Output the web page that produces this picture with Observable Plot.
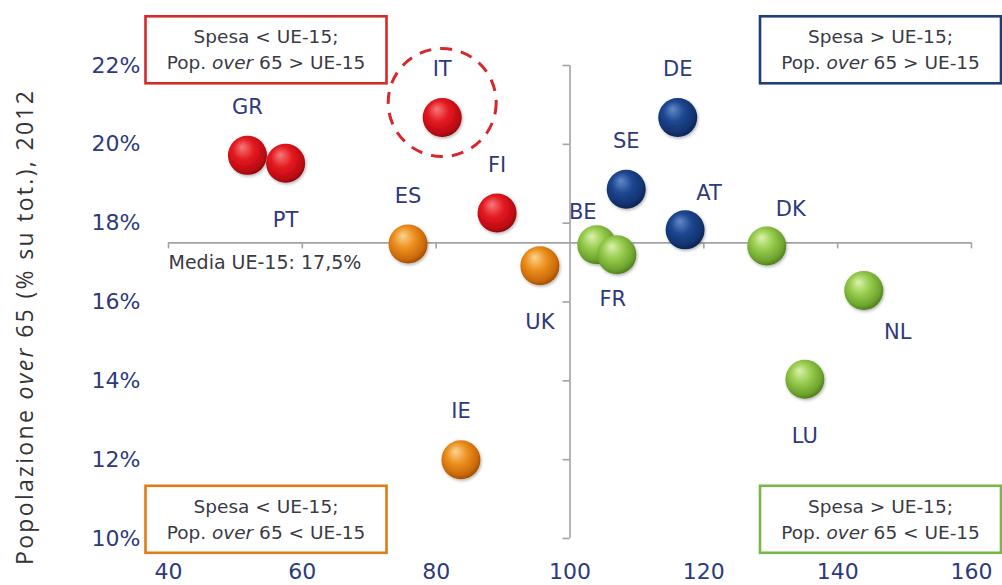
<!DOCTYPE html>
<html><head><meta charset="utf-8">
<script src="https://cdn.jsdelivr.net/npm/d3@7"></script>
<script src="https://cdn.jsdelivr.net/npm/@observablehq/plot@0.6"></script>
<style>body{margin:0;background:#fff}</style>
</head><body><div id="chart"></div>
<script>
// ---- data ----
const countries = ["GR","PT","IT","FI","ES","UK","IE","BE","FR","SE","DE","AT","DK","NL","LU"];
const spesa     = [51.8,57.5,80.9,89.1,75.8,95.5,83.7,104.0,107.0,108.4,116.1,117.2,129.4,143.9,135.1];
const over65    = [19.72,19.52,20.68,18.26,17.47,16.92,12.0,17.45,17.2,18.86,20.68,17.83,17.42,16.29,14.04];
const labelSide = ["N","S","N","N","N","S","N","NW","Sn","N","N","NE","NE","SE","S"];
const xTicks = [40,60,80,100,120,140,160];
const yTicks = [10,12,14,16,18,20,22];
const spesaUE = 100;
const over65UE = 17.5;
const mediaLabel = "Media UE-15: 17,5%";
const yTitle = "Popolazione over 65 (% su tot.), 2012";
const boxQuads = ["NW","NE","SW","SE"];
const boxTexts = [
  "Spesa < UE-15;\nPop. over 65 > UE-15",
  "Spesa > UE-15;\nPop. over 65 > UE-15",
  "Spesa < UE-15;\nPop. over 65 < UE-15",
  "Spesa > UE-15;\nPop. over 65 < UE-15"
];

// ---- styles ----
const quadColor = {NW:"#d42a2a", NE:"#1f3d7a", SW:"#e07b1a", SE:"#7ab648"};
const gradStops = {
  NW:["#f57a7a","#e41b22","#c00a12","#8e0510"],
  NE:["#6389c8","#1d4790","#123370","#0a2250"],
  SW:["#fcd490","#ec9020","#cc6a08","#9c4c04"],
  SE:["#dbf2ae","#96cb4c","#6ea42e","#4b7a1a"]
};
const sideOffset = {N:[0,-48], S:[0,57], Sn:[-4,45], NW:[-14,-33], NE:[24,-37], SE:[34,42]};
const boxAnchor = {NW:["top-left",97.5,-17.5], NE:["top-right",-91,-17.5], SW:["bottom-left",97.5,-21], SE:["bottom-right",-91,-21]};
const labelColor = "#2d3a7c";
const textGray = "#3a3a44";
const axisGray = "#a3a3a3";

const data = countries.map((c,i)=>({
  country:c, spesa:spesa[i], over65:over65[i], side:labelSide[i],
  quad:(over65[i] >= over65UE ? "N" : "S") + (spesa[i] < spesaUE ? "W" : "E")
}));

const labelMarks = Object.keys(sideOffset).map(s => Plot.text(data.filter(d=>d.side===s), {
  x:"spesa", y:"over65", text:"country", dx:sideOffset[s][0], dy:sideOffset[s][1],
  fontSize:21, fill:labelColor
}));

const boxMarks = boxQuads.map((q,i)=>Plot.text([boxTexts[i]], {
  frameAnchor:boxAnchor[q][0], dx:boxAnchor[q][1], dy:boxAnchor[q][2], text:d=>d,
  textAnchor:"middle", lineAnchor:"middle", lineHeight:1.4, fontSize:18.5, fill:textGray
}));

const chart = Plot.plot({
  width:1002, height:585,
  marginLeft:168, marginRight:31, marginTop:65, marginBottom:47,
  style:{fontFamily:"'DejaVu Sans', Verdana, sans-serif", fontSize:"22px", color:labelColor, background:"#fff"},
  x:{domain:[xTicks[0], xTicks[xTicks.length-1]], ticks:xTicks, tickSize:0, tickPadding:25, label:null},
  y:{domain:[yTicks[0], yTicks[yTicks.length-1]], ticks:yTicks, tickSize:0, tickPadding:28, tickFormat:d=>d+"%", label:null},
  color:{type:"identity"},
  marks:[
    Plot.ruleY([over65UE], {x1:xTicks[0], x2:xTicks[xTicks.length-1], stroke:axisGray, strokeWidth:1.6}),
    Plot.ruleX([spesaUE], {y1:yTicks[0], y2:yTicks[yTicks.length-1], stroke:axisGray, strokeWidth:1.6}),
    Plot.ruleX(xTicks.filter(d=>d!==spesaUE), {x:d=>d, y1:over65UE, y2:over65UE, insetBottom:-6, stroke:axisGray, strokeWidth:1.6}),
    Plot.ruleY(yTicks, {y:d=>d, x1:spesaUE, x2:spesaUE, insetLeft:-7, stroke:axisGray, strokeWidth:1.6}),
    Plot.text([mediaLabel], {x:xTicks[0], y:over65UE, text:d=>d, textAnchor:"start", dy:20, fontSize:19, fill:textGray}),
    Plot.dot(data.filter(d=>d.country==="IT"), {x:"spesa", y:"over65", r:54, dy:-15, fill:"none", stroke:"#d9262b", strokeWidth:3, strokeDasharray:"12,9"}),
    Plot.dot(data, {x:"spesa", y:"over65", r:19.5, fill:d=>`url(#ball-${d.quad})`, stroke:"none"}),
    ...labelMarks,
    Plot.text([yTitle], {frameAnchor:"left", text:d=>d, rotate:-90, textAnchor:"middle", dx:-143, dy:26, fontSize:23, fontFamily:"'Open Sans', sans-serif", fill:"#333"}),
    ...boxMarks
  ]
});
document.getElementById("chart").appendChild(chart);

const svgNode = chart.tagName.toLowerCase()==="svg" ? chart : chart.querySelector("svg");
const svg = d3.select(svgNode);

// gradients for the spheres
const defs = svg.insert("defs", ":first-child");
for (const q of Object.keys(gradStops)) {
  const g = defs.append("radialGradient").attr("id","ball-"+q)
    .attr("cx","45%").attr("cy","42%").attr("r","60%").attr("fx","36%").attr("fy","28%");
  [0,0.45,0.82,1].forEach((o,k)=>g.append("stop").attr("offset",o).attr("stop-color",gradStops[q][k]));
}
const f = defs.append("filter").attr("id","shadow").attr("x","-30%").attr("y","-30%").attr("width","160%").attr("height","160%");
f.append("feDropShadow").attr("dx",1).attr("dy",1.5).attr("stdDeviation",1.6).attr("flood-color","#000").attr("flood-opacity",0.3);
svg.selectAll("circle").filter(function(){ return (this.getAttribute("fill")||"").startsWith("url(#ball"); })
  .attr("filter","url(#shadow)");

// stretch the y title to the reference length
svg.selectAll("text").filter(function(){ return this.textContent === yTitle; })
  .attr("textLength", 474).attr("lengthAdjust", "spacing");

// italic "over"
function italicizeOver(root){
  const walker = document.createTreeWalker(root, NodeFilter.SHOW_TEXT);
  const nodes=[]; while(walker.nextNode()){ if(walker.currentNode.nodeValue.includes("over")) nodes.push(walker.currentNode); }
  for (const n of nodes){
    const parts = n.nodeValue.split("over");
    const frag = document.createDocumentFragment();
    parts.forEach((p,i)=>{
      if(i>0){ const t=document.createElementNS("http://www.w3.org/2000/svg","tspan"); t.setAttribute("font-style","italic"); t.textContent="over"; frag.appendChild(t); }
      frag.appendChild(document.createTextNode(p));
    });
    n.parentNode.replaceChild(frag, n);
  }
}
italicizeOver(svgNode);

// quadrant boxes around the "Spesa ..." texts
svg.selectAll("text").filter(function(){ return this.textContent.startsWith("Spesa"); }).each(function(){
  const t = this;
  const bb = t.getBBox();
  const ctm = t.getCTM();
  const sctm = svgNode.getCTM();
  let cx = bb.x + bb.width/2, cy = bb.y + bb.height/2;
  if (ctm) {
    const pt = svgNode.createSVGPoint(); pt.x = cx; pt.y = cy;
    const p = pt.matrixTransform(sctm ? sctm.inverse().multiply(ctm) : ctm);
    cx = p.x; cy = p.y;
  }
  const q = (cy < 292 ? "N" : "S") + (cx < 501 ? "W" : "E");
  const w = 241, h = 67;
  svg.insert("rect", "defs + *").attr("x",cx-w/2).attr("y",cy-h/2).attr("width",w).attr("height",h)
    .attr("fill","#fff").attr("stroke",quadColor[q]).attr("stroke-width",2.6);
});
</script>
</body></html>
